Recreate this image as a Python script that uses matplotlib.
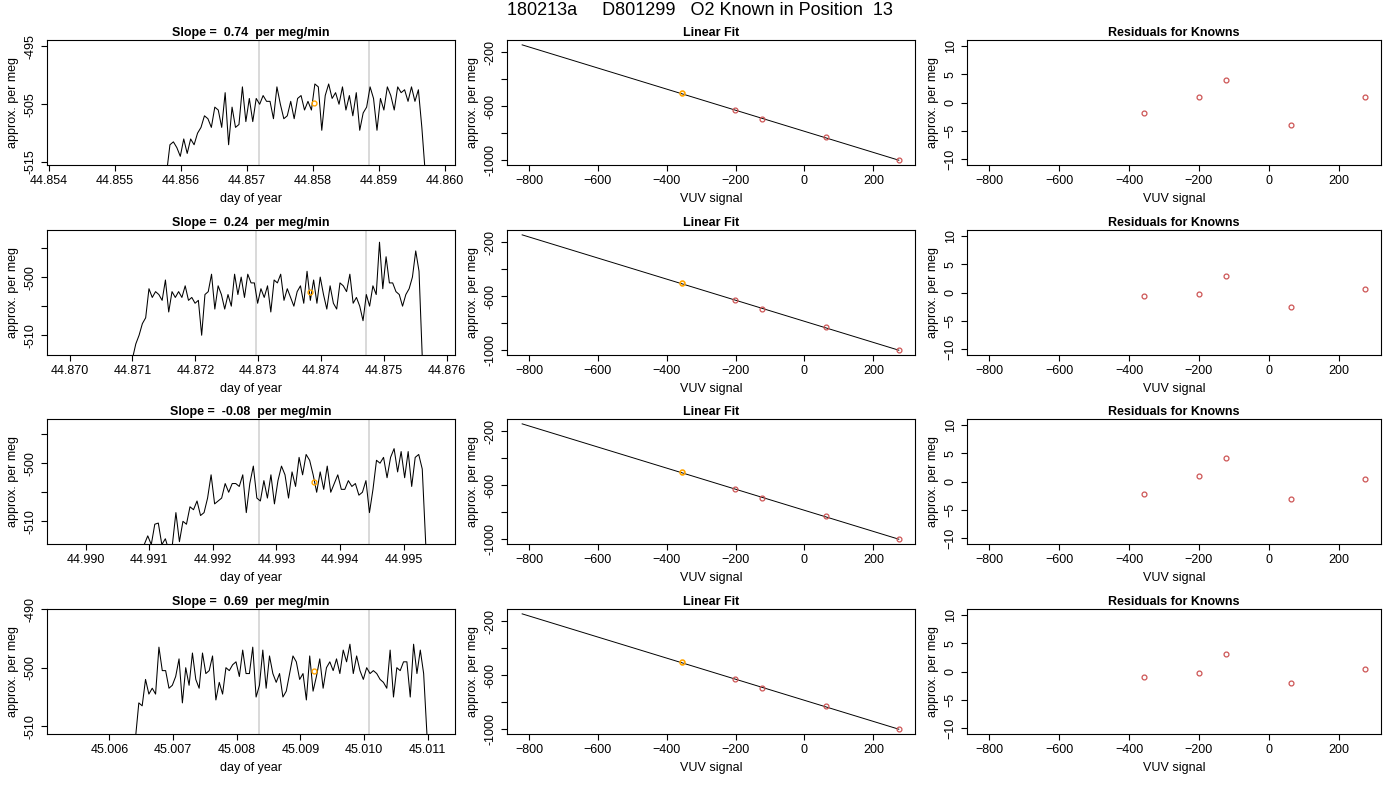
import numpy as np
import matplotlib.pyplot as plt

plt.rcParams['font.family'] = ['Liberation Sans', 'DejaVu Sans']
plt.rcParams['font.size'] = 9

title = '180213a     D801299   O2 Known in Position  13'
slopes = ['0.74', '0.24', '-0.08', '0.69']

# time-series traces (start day, end day, values)
t_start = [44.85578, 44.87100, 44.99092, 45.00641]
t_end = [44.85970, 44.87561, 44.99535, 45.01099]
trace1 = [-517, -512, -511.5, -512.5, -514, -511, -513.5, -511, -512, -510, -509, -507, -507.5, -509,
          -505.5, -506, -509, -503, -512, -505.5, -509, -508.5, -502, -508, -504, -508, -504, -505,
          -503.5, -504.5, -504.5, -507.5, -502, -505, -507.5, -507, -504.5, -507.5, -504, -503.5,
          -506, -504.5, -506, -501.5, -502, -509.5, -503.5, -501.5, -504, -503, -505, -502, -506,
          -503.5, -507, -503, -509.5, -506.5, -505.5, -502, -504, -509.5, -504, -506, -502, -503.5,
          -506, -502, -503, -502.5, -504.5, -502, -504.5, -502.5, -509, -517]
trace2 = [-514, -511.5, -510, -508, -507, -502, -503.5, -502.5, -503, -504, -500.5, -506, -502.5,
          -503.5, -502.5, -503.5, -501.5, -504, -503.5, -504.5, -504, -510, -503, -502.5, -499.5,
          -505.5, -501.5, -503, -505.5, -503, -505, -499.5, -503, -500, -503.5, -499.5, -501, -501,
          -504.5, -502, -503.5, -501.5, -506, -500.5, -501, -499.5, -504, -502, -503.5, -505, -502.5,
          -501.5, -504.5, -499, -504, -500.5, -504.5, -500, -503, -505.5, -501.5, -504.5, -505.5,
          -501, -501.5, -502.5, -499.5, -504.5, -503.5, -505, -507.5, -503, -505, -501.5, -503,
          -494, -502, -496.5, -501, -501, -502.5, -503, -505, -503, -502, -500, -495.5, -499, -514]
trace3 = [-514, -512.5, -514, -510.5, -510.3, -514, -513, -515, -514, -508.5, -513.5, -510, -510.5,
          -507.5, -508, -506.5, -509, -508.5, -506, -502, -507, -506.5, -506, -503.5, -505, -503.5,
          -503.5, -504, -502, -508.5, -503.5, -500.5, -506, -506.5, -503, -506, -502, -507, -503,
          -500.5, -502, -506, -501.5, -504, -499, -502, -498.5, -499.5, -502, -505, -501.5, -504.5,
          -500.5, -505, -503.5, -502, -504.5, -504.5, -503, -504, -503.5, -505.5, -505, -503,
          -508.5, -504.5, -499.5, -500, -499, -502.5, -499, -497.5, -501.5, -498, -502.5, -498,
          -504, -499, -498.5, -501, -514]
trace4 = [-512, -506, -506.5, -502, -504.5, -503.5, -504.5, -496.5, -500.5, -500.5, -503.5, -503,
          -501.5, -498.5, -506, -500, -503, -497.5, -502, -503.5, -497.5, -501, -500.5, -498, -505.5,
          -502.5, -504.5, -500, -500.5, -499.5, -499, -501.5, -497, -501, -501, -496.5, -505, -503,
          -497, -503.5, -498, -501, -502.5, -501, -505, -504, -501, -498, -499, -502, -501, -505.5,
          -498, -504, -501.5, -498.5, -503.5, -500, -499, -500.5, -498.5, -501, -497, -499, -496,
          -501, -498, -500.5, -502, -500, -501, -500.5, -501, -502, -502.5, -503.5, -497, -505,
          -500, -500.5, -499, -499, -505, -496, -501, -497, -501, -511.5]
traces = [trace1, trace2, trace3, trace4]
vlines = [(44.85718, 44.85885), (44.87296, 44.87471), (44.99273, 44.99446), (45.00835, 45.01008)]
mark_t = [44.85801, 44.87383, 44.99359, 45.00921]
mark_v = [-504.8, -502.5, -503.2, -500.6]
xlims = [(44.85397, 44.86015), (44.86964, 44.87613), (44.98939, 44.99581), (45.00502, 45.01143)]
ylims = [(-515.5, -493.9), (-513.4, -491.9), (-513.9, -492.4), (-511.3, -490.0)]
xticks = [np.arange(44.854, 44.8605, 0.001), np.arange(44.870, 44.8765, 0.001),
          np.arange(44.990, 44.9955, 0.001), np.arange(45.006, 45.0115, 0.001)]
yticks = [[-495, -505, -515], [-495, -500, -505, -510], [-495, -500, -505, -510], [-490, -500, -510]]
ylabs = [['-495', '-505', '-515'], ['', '-500', '', '-510'], ['', '-500', '', '-510'], ['-490', '-500', '-510']]

# knowns: VUV signal vs assigned value
vuv = [-357, -201, -124, 63, 274]
known = [-504, -630, -693, -831, -1000]
resid = [[-1.8, 0.9, 3.9, -3.9, 0.9],
         [-0.7, -0.2, 2.9, -2.6, 0.7],
         [-2.2, 0.9, 4.1, -3.1, 0.4],
         [-0.9, -0.2, 3.0, -2.1, 0.5]]

fig = plt.figure(figsize=(14, 8), dpi=100)
fig.text(0.5, 0.997, title, ha='center', va='top', fontsize=13)

red = '#cd5555'
orange = '#ffa500'
row_top = [40, 230, 419, 609]
cols = [(47, 455), (507, 915), (967, 1381)]


def style(ax):
    ax.tick_params(direction='out', length=4, labelsize=9)
    for lab in ax.get_yticklabels():
        lab.set_rotation(90)
        lab.set_va('center')


for r in range(4):
    b = 1 - (row_top[r] + 125) / 800
    h = 125 / 800
    # time series
    ax = fig.add_axes([cols[0][0] / 1400, b, (cols[0][1] - cols[0][0]) / 1400, h])
    t = np.linspace(t_start[r], t_end[r], len(traces[r]))
    ax.plot(t, traces[r], color='black', lw=0.75)
    for v in vlines[r]:
        ax.axvline(v, color='#d3d3d3', lw=1.2, zorder=0)
    ax.plot(mark_t[r], mark_v[r], 'o', mfc='none', mec=orange, ms=3.5, mew=1)
    ax.set_xlim(xlims[r])
    ax.set_ylim(ylims[r])
    ax.set_xticks(xticks[r])
    ax.set_xticklabels(['%.3f' % x for x in xticks[r]])
    ax.set_yticks(yticks[r])
    ax.set_yticklabels(ylabs[r])
    ax.set_title('Slope =  %s  per meg/min' % slopes[r], fontweight='bold', fontsize=9, pad=3)
    ax.set_xlabel('day of year', labelpad=4)
    ax.set_ylabel('approx. per meg')
    style(ax)

    # linear fit
    ax = fig.add_axes([cols[1][0] / 1400, b, (cols[1][1] - cols[1][0]) / 1400, h])
    m, c = np.polyfit(vuv, known, 1)
    xx = np.array([-820, max(vuv)])
    ax.plot(xx, m * xx + c, color='black', lw=0.7)
    ax.plot(vuv[1:], known[1:], 'o', mfc='none', mec=red, ms=3.5, mew=0.9)
    ax.plot(vuv[0], known[0], 'o', mfc='none', mec=orange, ms=3.5, mew=1.2)
    ax.set_xlim(-864, 321)
    ax.set_ylim(-1035, -109)
    ax.set_xticks([-800, -600, -400, -200, 0, 200])
    ax.set_yticks([-200, -400, -600, -800, -1000])
    ax.set_yticklabels(['-200', '', '-600', '', '-1000'])
    ax.set_title('Linear Fit', fontweight='bold', fontsize=9, pad=3)
    ax.set_xlabel('VUV signal', labelpad=4)
    ax.set_ylabel('approx. per meg')
    style(ax)

    # residuals
    ax = fig.add_axes([cols[2][0] / 1400, b, (cols[2][1] - cols[2][0]) / 1400, h])
    ax.plot(vuv, resid[r], 'o', mfc='none', mec=red, ms=3.5, mew=0.9)
    ax.set_xlim(-864, 321)
    ax.set_ylim(-11, 11)
    ax.set_xticks([-800, -600, -400, -200, 0, 200])
    ax.set_yticks([-10, -5, 0, 5, 10])
    ax.set_title('Residuals for Knowns', fontweight='bold', fontsize=9, pad=3)
    ax.set_xlabel('VUV signal', labelpad=4)
    ax.set_ylabel('approx. per meg')
    style(ax)

fig.savefig('out.png', dpi=100)
